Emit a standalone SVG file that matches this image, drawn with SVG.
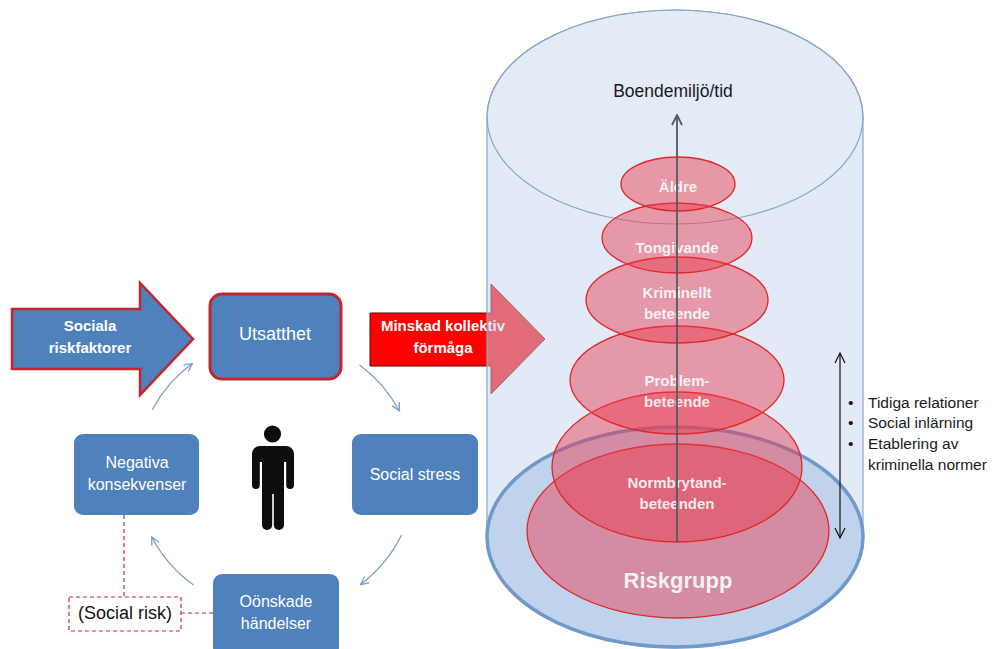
<svg xmlns="http://www.w3.org/2000/svg" width="992" height="649" viewBox="0 0 992 649">
<defs>
<style>
text{font-family:"Liberation Sans",Arial,sans-serif;}
.box{fill:#4f81bd;}
.wt{fill:#ffffff;font-size:16px;text-anchor:middle;}
.wb{fill:#ffffff;font-weight:bold;font-size:15px;text-anchor:middle;}
.el{fill:#ea3c4e;fill-opacity:0.47;stroke:#e0262a;stroke-width:1.3;}
.elt{fill:#ffffff;fill-opacity:0.88;font-weight:bold;font-size:15px;text-anchor:middle;}
.cyc{fill:none;stroke:#7b9dc8;stroke-width:1.3;marker-end:url(#open);}
.dash{fill:none;stroke:#c8282c;stroke-width:1.2;stroke-dasharray:4 3;}
.bl{fill:#1a1a1a;font-size:15.5px;}
</style>
<marker id="open" viewBox="0 0 10 10" refX="9" refY="5" markerWidth="10" markerHeight="10" markerUnits="userSpaceOnUse" orient="auto">
<path d="M1,1 L9,5 L1,9" fill="none" stroke="#7b9dc8" stroke-width="1.3"/>
</marker>
<marker id="openDark" viewBox="0 0 12 12" refX="11" refY="6" markerWidth="12" markerHeight="12" markerUnits="userSpaceOnUse" orient="auto">
<path d="M1,1 L11,6 L1,11" fill="none" stroke="#505a68" stroke-width="1.8"/>
</marker>
<marker id="openBlack" viewBox="0 0 12 12" refX="11" refY="6" markerWidth="12" markerHeight="12" markerUnits="userSpaceOnUse" orient="auto-start-reverse">
<path d="M1,1 L11,6 L1,11" fill="none" stroke="#111" stroke-width="1.2"/>
</marker>
</defs>
<rect width="992" height="649" fill="#ffffff"/>

<g id="minskad">
<path d="M370,313 L491,313 L491,284 L545,339 L491,394 L491,366 L370,366 Z" fill="#ff0000" stroke="#5a0a0a" stroke-width="1"/>
<text class="wb" x="443" y="331">Minskad kollektiv</text>
<text class="wb" x="443" y="353">förmåga</text>
</g>

<g id="cylinder">
<path d="M487,117 A188,107 0 0 1 863,117 L863,537 A188,111 0 0 1 487,537 Z" fill="#c3d5ee" fill-opacity="0.5" stroke="#8aa5c8" stroke-width="1.2"/>
<ellipse cx="675" cy="117" rx="188" ry="107" fill="#e6eef8" fill-opacity="0.25" stroke="#8aa5c8" stroke-width="1.2"/>
<ellipse cx="675" cy="537" rx="188" ry="110" fill="#bacfea" fill-opacity="0.85" stroke="#7098cb" stroke-width="3.5"/>
<text x="673" y="97" font-size="17.5" fill="#1a1a1a" text-anchor="middle">Boendemiljö/tid</text>
</g>

<g id="riskgrupp">
<ellipse class="el" cx="678" cy="531" rx="151" ry="87"/>
<text class="elt" x="678" y="588" style="font-size:22px">Riskgrupp</text>
</g>
<g id="normbrytande">
<ellipse class="el" cx="677" cy="467" rx="125" ry="75"/>
</g>
<g id="problembeteende">
<ellipse class="el" cx="677" cy="380" rx="107" ry="54"/>
</g>
<g id="kriminellt">
<ellipse class="el" cx="677" cy="300" rx="91" ry="43"/>
</g>
<g id="tongivande">
<ellipse class="el" cx="677" cy="238" rx="75" ry="35"/>
</g>
<g id="aldre">
<ellipse class="el" cx="678" cy="184" rx="57" ry="27"/>
</g>
<g id="ellipse-labels">
<text class="elt" x="678" y="192">Äldre</text>
<text class="elt" x="677" y="253">Tongivande</text>
<text class="elt" x="677" y="298">Kriminellt</text>
<text class="elt" x="677" y="319">beteende</text>
<text class="elt" x="677" y="386">Problem-</text>
<text class="elt" x="677" y="407">beteende</text>
<text class="elt" x="677" y="488">Normbrytand-</text>
<text class="elt" x="677" y="509">beteenden</text>
</g>

<g id="connectors">
<line x1="677" y1="542" x2="677" y2="115" stroke="#505a68" stroke-width="1.8" marker-end="url(#openDark)"/>
<line x1="840" y1="538" x2="840" y2="353" stroke="#111" stroke-width="1.2" marker-start="url(#openBlack)" marker-end="url(#openBlack)"/>
<path class="cyc" d="M152.3,409.7 A139,139 0 0 1 192.3,363.5"/>
<path class="cyc" d="M359.5,365 A139,139 0 0 1 399.5,411"/>
<path class="cyc" d="M401.5,535 A139,139 0 0 1 360.6,584.5"/>
<path class="cyc" d="M193.5,585 A139,139 0 0 1 151.7,537"/>
<path class="dash" d="M124,515 L124,597"/>
<path class="dash" d="M181,613 L213,613"/>
</g>

<g id="sociala">
<path d="M12,309 L140,309 L140,283 L193,339 L140,395 L140,369 L12,369 Z" fill="#4f81bd" stroke="#c3262c" stroke-width="2.5" stroke-linejoin="miter"/>
<text class="wb" x="90" y="331">Sociala</text>
<text class="wb" x="90" y="353">riskfaktorer</text>
</g>

<g id="utsatthet">
<rect x="210" y="294" width="131" height="85" rx="12" fill="#4f81bd" stroke="#c3262c" stroke-width="3"/>
<text class="wt" x="275" y="340" style="font-size:18px">Utsatthet</text>
</g>

<g id="social-stress">
<rect class="box" x="352" y="434" width="126" height="81" rx="9"/>
<text class="wt" x="415" y="480">Social stress</text>
</g>

<g id="onskade">
<rect class="box" x="213" y="574" width="126" height="82" rx="9"/>
<text class="wt" x="276" y="607">Oönskade</text>
<text class="wt" x="276" y="629">händelser</text>
</g>

<g id="negativa">
<rect class="box" x="74" y="434" width="125" height="81" rx="9"/>
<text class="wt" x="137" y="468">Negativa</text>
<text class="wt" x="137" y="490">konsekvenser</text>
</g>

<g id="social-risk">
<rect x="69" y="597" width="112" height="34" fill="#ffffff" stroke="#c8282c" stroke-width="1.2" stroke-dasharray="4 3"/>
<text x="125" y="619" font-size="18" fill="#111" text-anchor="middle">(Social risk)</text>
</g>

<g id="person" fill="#0d0d0d">
<circle cx="272.5" cy="434" r="8.6"/>
<rect x="252" y="446" width="42" height="16" rx="8"/>
<rect x="252" y="452" width="7.8" height="37" rx="3.9"/>
<rect x="286.2" y="452" width="7.8" height="37" rx="3.9"/>
<rect x="262" y="450" width="22" height="44"/>
<rect x="262" y="480" width="10.2" height="50" rx="5"/>
<rect x="273.8" y="480" width="10.2" height="50" rx="5"/>
</g>

<g id="bullets">
<text class="bl" x="848" y="408">•</text>
<text class="bl" x="868" y="408">Tidiga relationer</text>
<text class="bl" x="848" y="428">•</text>
<text class="bl" x="868" y="428">Social inlärning</text>
<text class="bl" x="848" y="449">•</text>
<text class="bl" x="868" y="449">Etablering av</text>
<text class="bl" x="868" y="470">kriminella normer</text>
</g>
</svg>
